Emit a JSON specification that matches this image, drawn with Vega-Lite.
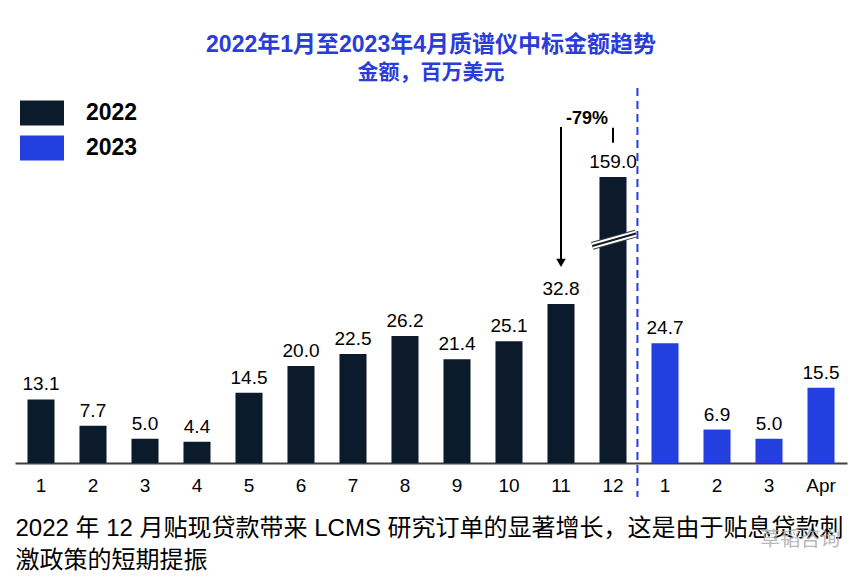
{
  "$schema": "https://vega.github.io/schema/vega-lite/v6.json",
  "width": 832,
  "height": 375,
  "autosize": "none",
  "padding": {"left": 15, "top": 88, "right": 18, "bottom": 115},
  "background": "white",
  "title": {
    "text": "2022年1月至2023年4月质谱仪中标金额趋势",
    "subtitle": "金额，百万美元",
    "anchor": "middle",
    "frame": "group",
    "font": "Liberation Sans, Noto Sans CJK SC",
    "fontSize": 23,
    "fontWeight": "bold",
    "color": "#2a3ddb",
    "subtitleFont": "Noto Sans CJK SC",
    "subtitleFontSize": 21,
    "subtitleFontWeight": "bold",
    "subtitleColor": "#2a3ddb",
    "subtitlePadding": 5,
    "offset": 4
  },
  "config": {"view": {"stroke": null}, "font": "Liberation Sans"},
  "layer": [
    {
      "data": {
        "values": [
          {"key": "2022-1", "year": "2022", "amount": 13.1},
          {"key": "2022-2", "year": "2022", "amount": 7.7},
          {"key": "2022-3", "year": "2022", "amount": 5.0},
          {"key": "2022-4", "year": "2022", "amount": 4.4},
          {"key": "2022-5", "year": "2022", "amount": 14.5},
          {"key": "2022-6", "year": "2022", "amount": 20.0},
          {"key": "2022-7", "year": "2022", "amount": 22.5},
          {"key": "2022-8", "year": "2022", "amount": 26.2},
          {"key": "2022-9", "year": "2022", "amount": 21.4},
          {"key": "2022-10", "year": "2022", "amount": 25.1},
          {"key": "2022-11", "year": "2022", "amount": 32.8},
          {"key": "2022-12", "year": "2022", "amount": 159.0},
          {"key": "2023-1", "year": "2023", "amount": 24.7},
          {"key": "2023-2", "year": "2023", "amount": 6.9},
          {"key": "2023-3", "year": "2023", "amount": 5.0},
          {"key": "2023-Apr", "year": "2023", "amount": 15.5}
        ]
      },
      "encoding": {
        "x": {
          "field": "key",
          "type": "nominal",
          "sort": null,
          "scale": {"paddingInner": 0.48, "paddingOuter": 0.24},
          "axis": {
            "labelExpr": "split(datum.value, '-')[1]",
            "labelAngle": 0,
            "labelFont": "Liberation Sans",
            "labelFontSize": 19,
            "labelColor": "#000000",
            "labelPadding": 13,
            "ticks": false,
            "domainColor": "#404040",
            "domainWidth": 2,
            "title": ["2022 年 12 月贴现贷款带来 LCMS 研究订单的显著增长，这是由于贴息贷款刺", "激政策的短期提振"],
            "titleFont": "Liberation Sans, Noto Sans CJK SC",
            "titleFontSize": 24,
            "titleFontWeight": "normal",
            "titleColor": "#000000",
            "titleAnchor": "start",
            "titleAlign": "left",
            "titleX": 0,
            "titleY": 72,
            "titleBaseline": "alphabetic",
            "titleLineHeight": 32,
            "titleLimit": 900
          }
        },
        "y": {
          "field": "amount",
          "type": "quantitative",
          "scale": {"domain": [0, 40, 159], "range": [375, 181, 89], "nice": false, "zero": false},
          "axis": null
        }
      },
      "layer": [
        {
          "mark": {"type": "bar"},
          "encoding": {
            "color": {
              "field": "year",
              "type": "nominal",
              "scale": {"domain": ["2022", "2023"], "range": ["#0c1b2b", "#233fe0"]},
              "legend": {
                "title": null,
                "orient": "none",
                "legendX": 5,
                "legendY": 3,
                "direction": "vertical",
                "symbolType": "M-1,-0.57H1V0.57H-1Z",
                "symbolSize": 1936,
                "symbolStrokeWidth": 0,
                "symbolOpacity": 1,
                "labelFont": "Liberation Sans",
                "labelFontSize": 23,
                "labelFontWeight": "bold",
                "labelColor": "#000000",
                "labelOffset": 22,
                "rowPadding": -5
              }
            }
          }
        },
        {
          "mark": {"type": "text", "dy": -9, "baseline": "alphabetic", "fontSize": 19, "font": "Liberation Sans", "color": "#000000"},
          "encoding": {"text": {"field": "amount", "type": "quantitative", "format": ".1f"}}
        }
      ]
    },
    {
      "layer": [
        {
          "data": {"values": [{"pos": 11.97, "v": 274, "v2": -7}]},
          "mark": {"type": "rule", "color": "#233fe0", "strokeWidth": 2, "strokeDash": [8, 5]},
          "encoding": {
            "x": {"field": "pos", "type": "quantitative", "scale": {"domain": [0, 16], "nice": false, "zero": false}, "axis": null},
            "y": {"field": "v", "type": "quantitative", "scale": {"domain": [0, 40, 159], "range": [375, 181, 89], "nice": false, "zero": false}, "axis": null},
            "y2": {"field": "v2"}
          }
        },
        {
          "data": {"values": [{"pos": 11.1, "v": 69.8}, {"pos": 11.94, "v": 85.9}]},
          "encoding": {
            "x": {"field": "pos", "type": "quantitative", "scale": {"domain": [0, 16], "nice": false, "zero": false}, "axis": null},
            "y": {"field": "v", "type": "quantitative", "scale": {"domain": [0, 40, 159], "range": [375, 181, 89], "nice": false, "zero": false}, "axis": null}
          },
          "layer": [
            {"mark": {"type": "line", "color": "#3a3a3a", "strokeWidth": 8}},
            {"mark": {"type": "line", "color": "#ffffff", "strokeWidth": 6}},
            {"mark": {"type": "line", "color": "#0c1b2b", "strokeWidth": 2}}
          ]
        },
        {
          "data": {"values": [{"pos": 10.5, "v": 223.7, "v2": 51.6}, {"pos": 11.5, "v": 222.8, "v2": 203.4}]},
          "mark": {"type": "rule", "color": "#000000", "strokeWidth": 2},
          "encoding": {
            "x": {"field": "pos", "type": "quantitative", "scale": {"domain": [0, 16], "nice": false, "zero": false}, "axis": null},
            "y": {"field": "v", "type": "quantitative", "scale": {"domain": [0, 40, 159], "range": [375, 181, 89], "nice": false, "zero": false}, "axis": null},
            "y2": {"field": "v2"}
          }
        },
        {
          "data": {"values": [{"pos": 10.5, "v": 48}]},
          "mark": {"type": "point", "shape": "triangle-down", "filled": true, "color": "#000000", "size": 90, "opacity": 1},
          "encoding": {
            "x": {"field": "pos", "type": "quantitative", "scale": {"domain": [0, 16], "nice": false, "zero": false}, "axis": null},
            "y": {"field": "v", "type": "quantitative", "scale": {"domain": [0, 40, 159], "range": [375, 181, 89], "nice": false, "zero": false}, "axis": null}
          }
        },
        {
          "data": {"values": [{"pos": 11.0, "v": 234, "label": "-79%"}]},
          "mark": {"type": "text", "fontSize": 18, "fontWeight": "bold", "font": "Liberation Sans", "baseline": "middle", "color": "#000000"},
          "encoding": {
            "x": {"field": "pos", "type": "quantitative", "scale": {"domain": [0, 16], "nice": false, "zero": false}, "axis": null},
            "y": {"field": "v", "type": "quantitative", "scale": {"domain": [0, 40, 159], "range": [375, 181, 89], "nice": false, "zero": false}, "axis": null},
            "text": {"field": "label"}
          }
        },
        {
          "data": {"values": [{"pos": 14.33, "v": -15.9, "label": "草韬咨询"}]},
          "mark": {"type": "text", "fontSize": 20, "font": "Noto Sans CJK SC", "align": "left", "baseline": "middle", "color": "#a8a8a8", "opacity": 0.8},
          "encoding": {
            "x": {"field": "pos", "type": "quantitative", "scale": {"domain": [0, 16], "nice": false, "zero": false}, "axis": null},
            "y": {"field": "v", "type": "quantitative", "scale": {"domain": [0, 40, 159], "range": [375, 181, 89], "nice": false, "zero": false}, "axis": null},
            "text": {"field": "label"}
          }
        }
      ]
    }
  ],
  "resolve": {"scale": {"x": "independent"}}
}
